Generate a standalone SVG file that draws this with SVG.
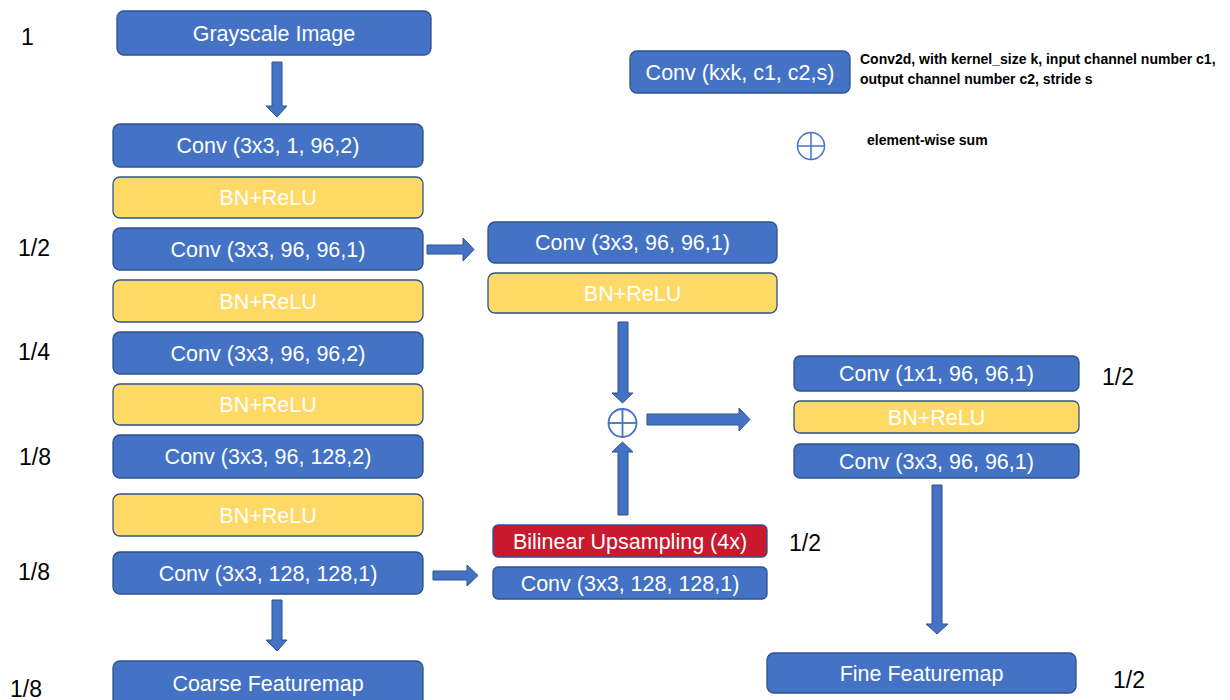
<svg xmlns="http://www.w3.org/2000/svg" width="1230" height="700" viewBox="0 0 1230 700">
<style>
.b{fill:#4472C4;stroke:#2F528F;stroke-width:1.3}
.y{fill:#FFD966;stroke:#2F528F;stroke-width:1.3}
.r{fill:#C8192E;stroke:#2F528F;stroke-width:1.3}
.t{font-family:"Liberation Sans",Arial,sans-serif;font-size:21.5px;fill:#fff;text-anchor:middle}
.l{font-family:"Liberation Sans",Arial,sans-serif;font-size:23px;fill:#000}
.g{font-family:"Liberation Sans",Arial,sans-serif;font-size:14px;font-weight:bold;fill:#000}
.a{fill:#4472C4;stroke:#2F528F;stroke-width:1}
</style>
<rect width="1230" height="700" fill="#fff"/>
<g id="labels">
<text class="l" x="21" y="45">1</text>
<text class="l" x="18" y="256">1/2</text>
<text class="l" x="18" y="360">1/4</text>
<text class="l" x="19" y="465">1/8</text>
<text class="l" x="18" y="580">1/8</text>
<text class="l" x="10" y="697">1/8</text>
<text class="l" x="789" y="551">1/2</text>
<text class="l" x="1102" y="385">1/2</text>
<text class="l" x="1113" y="688">1/2</text>
</g>
<g id="legend">
<rect class="b" x="630" y="51" width="220" height="42" rx="7"/>
<text class="t" x="740" y="80">Conv (kxk, c1, c2,s)</text>
<text class="g" x="860" y="64">Conv2d, with kernel_size k, input channel number c1,</text>
<text class="g" x="860" y="84">output channel number c2, stride s</text>
<g fill="none" stroke="#4472C4" stroke-width="1.5"><circle cx="811" cy="146" r="13.5"/><line x1="797.5" y1="146" x2="824.5" y2="146"/><line x1="811" y1="132.5" x2="811" y2="159.5"/></g>
<text class="g" x="867" y="145">element-wise sum</text>
</g>
<g id="connectors">
<polygon class="a" points="272,62 282,62 282,106 287,106 277,117 266,106 272,106"/>
<polygon class="a" points="272,600 282,600 282,640 287,640 277,651 266,640 272,640"/>
<polygon class="a" points="427,245 463,245 463,238 474,249.5 463,261 463,254 427,254"/>
<polygon class="a" points="433,571 467,571 467,565 478,575.5 467,586 467,580 433,580"/>
<polygon class="a" points="618,322 628,322 628,393 633,393 622.5,403 612,393 618,393"/>
<polygon class="a" points="618,515 628,515 628,452 633,452 622.5,442 612,452 618,452"/>
<polygon class="a" points="647,414 739,414 739,408 750,419.5 739,431 739,425 647,425"/>
<polygon class="a" points="932,485 942,485 942,624 948,624 937,634 926,624 932,624"/>
<g fill="none" stroke="#4472C4" stroke-width="1.8"><circle cx="622.5" cy="423" r="14"/><line x1="608.5" y1="423" x2="636.5" y2="423"/><line x1="622.5" y1="409" x2="622.5" y2="437"/></g>
</g>
<g id="n_gray"><rect class="b" x="117" y="11" width="314" height="44" rx="7"/><text class="t" x="274" y="41">Grayscale Image</text></g>
<g id="n_conv1"><rect class="b" x="113" y="124" width="310" height="43" rx="7"/><text class="t" x="268" y="153">Conv (3x3, 1, 96,2)</text></g>
<g id="n_bn1"><rect class="y" x="113" y="177" width="310" height="41" rx="7"/><text class="t" x="268" y="205">BN+ReLU</text></g>
<g id="n_conv2"><rect class="b" x="113" y="228" width="310" height="42" rx="7"/><text class="t" x="268" y="257">Conv (3x3, 96, 96,1)</text></g>
<g id="n_bn2"><rect class="y" x="113" y="280" width="310" height="42" rx="7"/><text class="t" x="268" y="309">BN+ReLU</text></g>
<g id="n_conv3"><rect class="b" x="113" y="332" width="310" height="42" rx="7"/><text class="t" x="268" y="361">Conv (3x3, 96, 96,2)</text></g>
<g id="n_bn3"><rect class="y" x="113" y="384" width="310" height="41" rx="7"/><text class="t" x="268" y="412">BN+ReLU</text></g>
<g id="n_conv4"><rect class="b" x="113" y="435" width="310" height="43" rx="7"/><text class="t" x="268" y="464">Conv (3x3, 96, 128,2)</text></g>
<g id="n_bn4"><rect class="y" x="113" y="494" width="310" height="42" rx="7"/><text class="t" x="268" y="523">BN+ReLU</text></g>
<g id="n_conv5"><rect class="b" x="113" y="552" width="310" height="42" rx="7"/><text class="t" x="268" y="581">Conv (3x3, 128, 128,1)</text></g>
<g id="n_coarse"><rect class="b" x="113" y="661" width="310" height="46" rx="7"/><text class="t" x="268" y="691">Coarse Featuremap</text></g>
<g id="n_mconv1"><rect class="b" x="488" y="222" width="289" height="41" rx="7"/><text class="t" x="632.5" y="250">Conv (3x3, 96, 96,1)</text></g>
<g id="n_mbn1"><rect class="y" x="488" y="273" width="289" height="40" rx="7"/><text class="t" x="632.5" y="301">BN+ReLU</text></g>
<g id="n_up"><rect class="r" x="493" y="525" width="274" height="32" rx="5"/><text class="t" x="630" y="549">Bilinear Upsampling (4x)</text></g>
<g id="n_mconv2"><rect class="b" x="493" y="567" width="274" height="32" rx="5"/><text class="t" x="630" y="591">Conv (3x3, 128, 128,1)</text></g>
<g id="n_rconv1"><rect class="b" x="794" y="356" width="285" height="35" rx="6"/><text class="t" x="936.5" y="381">Conv (1x1, 96, 96,1)</text></g>
<g id="n_rbn"><rect class="y" x="794" y="401" width="285" height="32" rx="6"/><text class="t" x="936.5" y="425">BN+ReLU</text></g>
<g id="n_rconv2"><rect class="b" x="794" y="444" width="285" height="34" rx="6"/><text class="t" x="936.5" y="469">Conv (3x3, 96, 96,1)</text></g>
<g id="n_fine"><rect class="b" x="767" y="653" width="309" height="40" rx="7"/><text class="t" x="921.5" y="681">Fine Featuremap</text></g>
</svg>
